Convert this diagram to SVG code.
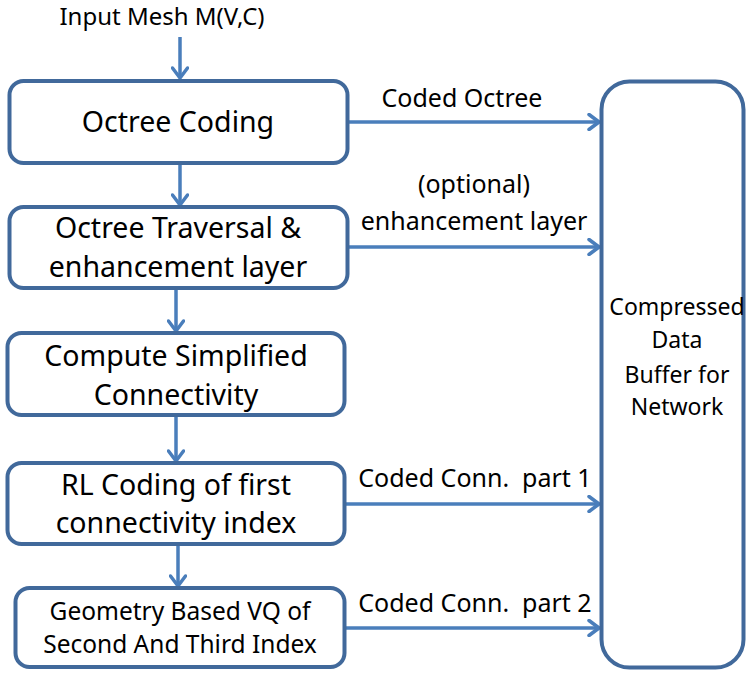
<svg xmlns="http://www.w3.org/2000/svg" width="746" height="673" viewBox="0 0 746 673">
<defs>
<style>
.box{fill:#fff;stroke:#41699B;stroke-width:4}
.con{stroke:#4A7EBB;stroke-width:3.5;fill:none}
text{font-family:"Noto Sans","Open Sans","Liberation Sans",sans-serif;fill:#000;white-space:pre}
.t{font-size:28.5px;text-anchor:middle}
.s{font-size:24.5px;text-anchor:middle}
.l{font-size:25px;text-anchor:middle}
.r{font-size:23px;text-anchor:middle}
</style>
<marker id="ah" viewBox="0 0 14 18" refX="12" refY="9" markerWidth="14" markerHeight="18" markerUnits="userSpaceOnUse" orient="auto">
<path d="M2,1.5 L12,9 L2,16.5" fill="none" stroke="#4A7EBB" stroke-width="3.5" stroke-linecap="round" stroke-linejoin="round"/>
</marker>
</defs>
<rect width="746" height="673" fill="#fff"/>
<g id="connectors">
<line class="con" x1="180" y1="37" x2="180" y2="78" marker-end="url(#ah)"/>
<line class="con" x1="180" y1="164" x2="180" y2="205" marker-end="url(#ah)"/>
<line class="con" x1="176" y1="289" x2="176" y2="331" marker-end="url(#ah)"/>
<line class="con" x1="176" y1="416" x2="176" y2="461" marker-end="url(#ah)"/>
<line class="con" x1="178" y1="545" x2="178" y2="586" marker-end="url(#ah)"/>
<line class="con" x1="349" y1="122" x2="599" y2="122" marker-end="url(#ah)"/>
<line class="con" x1="349" y1="247" x2="599" y2="247" marker-end="url(#ah)"/>
<line class="con" x1="346" y1="504" x2="599" y2="504" marker-end="url(#ah)"/>
<line class="con" x1="346" y1="628" x2="599" y2="628" marker-end="url(#ah)"/>
<text class="l" x="462" y="107">Coded Octree</text>
<text class="l" x="474" y="193">(optional)</text>
<text class="l" x="474" y="230">enhancement layer</text>
<text class="l" x="475" y="487">Coded Conn.  part 1</text>
<text class="l" x="475" y="612">Coded Conn.  part 2</text>
</g>
<g id="input">
<text class="l" x="162" y="25" style="font-size:24px">Input Mesh M(V,C)</text>
</g>
<g id="octree-coding">
<rect class="box" x="9.5" y="81" width="338" height="82" rx="14"/>
<text class="t" x="178" y="132">Octree Coding</text>
</g>
<g id="octree-traversal">
<rect class="box" x="9.5" y="207" width="338" height="81" rx="14"/>
<text class="t" x="178" y="238">Octree Traversal &amp;</text>
<text class="t" x="178" y="277">enhancement layer</text>
</g>
<g id="compute-connectivity">
<rect class="box" x="7.5" y="333" width="337" height="82" rx="14"/>
<text class="t" x="176" y="366">Compute Simplified</text>
<text class="t" x="176" y="405">Connectivity</text>
</g>
<g id="rl-coding">
<rect class="box" x="7.5" y="463" width="337" height="81" rx="14"/>
<text class="t" x="176" y="495">RL Coding of first</text>
<text class="t" x="176" y="533">connectivity index</text>
</g>
<g id="geometry-vq">
<rect class="box" x="15.5" y="588" width="329" height="79" rx="14"/>
<text class="s" x="180" y="620">Geometry Based VQ of</text>
<text class="s" x="180" y="653">Second And Third Index</text>
</g>
<g id="buffer">
<rect class="box" x="601.5" y="81.5" width="142" height="586" rx="28"/>
<text class="r" x="677" y="315">Compressed</text>
<text class="r" x="677" y="348">Data</text>
<text class="r" x="677" y="383">Buffer for</text>
<text class="r" x="677" y="415">Network</text>
</g>
</svg>
